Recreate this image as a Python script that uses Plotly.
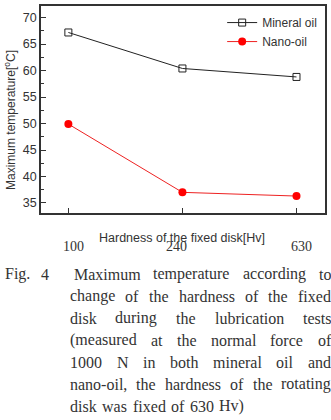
import plotly.graph_objects as go

hardness = ["100", "240", "630"]
mineral_oil = [67.2, 60.4, 58.8]
nano_oil = [49.9, 37.0, 36.3]

caption_label = "Fig. 4"
caption_lines = [
    "Maximum temperature according to",
    "change of the hardness of the fixed",
    "disk during the lubrication tests",
    "(measured at the normal force of",
    "1000 N in both mineral oil and",
    "nano-oil, the hardness of the rotating",
    "disk was fixed of 630 Hv)",
]

xpos = list(range(len(hardness)))

# Times/Liberation Serif advance widths (per 1000 em) used to justify the caption
TIMES = {c: 500 for c in "0123456789"}
TIMES.update({
    'a': 444, 'b': 500, 'c': 444, 'd': 500, 'e': 444, 'f': 333, 'g': 500, 'h': 500,
    'i': 278, 'j': 278, 'k': 500, 'l': 278, 'm': 778, 'n': 500, 'o': 500, 'p': 500,
    'q': 500, 'r': 333, 's': 389, 't': 278, 'u': 500, 'v': 500, 'w': 722, 'x': 500,
    'y': 500, 'z': 444, 'M': 889, 'N': 722, 'H': 722, 'F': 556, '(': 333, ')': 333,
    ',': 250, '-': 333, '.': 250, ' ': 250,
})


def text_w(s, size):
    return sum(TIMES.get(c, 500) for c in s) * size / 1000.0


fig = go.Figure()
fig.add_trace(go.Scatter(
    x=xpos, y=mineral_oil, name="Mineral oil", mode="lines+markers",
    line=dict(color="#222222", width=1),
    marker=dict(symbol="square-open", size=7, color="#222222", line=dict(width=1)),
))
fig.add_trace(go.Scatter(
    x=xpos, y=nano_oil, name="Nano-oil", mode="lines+markers",
    line=dict(color="#ee2222", width=1),
    marker=dict(symbol="circle", size=8, color="#ff0000"),
))

sans = "Liberation Sans, Arial, sans-serif"
serif = "Liberation Serif, Times New Roman, serif"
ink = "#333333"

L, R, T, B, W, H = 41, 5, 4, 207, 331, 420
PW, PH = W - L - R, H - T - B


def px_x(px):
    return (px - L) / PW


def px_y(py):
    return (H - B - py) / PH


fig.update_layout(
    width=W, height=H,
    margin=dict(l=L, r=R, t=T, b=B),
    paper_bgcolor="white", plot_bgcolor="white",
    font=dict(family=sans, size=12, color=ink),
    showlegend=True,
    legend=dict(x=0.99, y=0.99, xanchor="right", yanchor="top",
                bgcolor="rgba(0,0,0,0)", font=dict(size=12, family=sans, color=ink),
                itemwidth=30, tracegroupgap=0),
    xaxis=dict(range=[-0.24, 2.25], showgrid=False, zeroline=False,
               showline=True, linecolor=ink, linewidth=1.5, mirror=True,
               ticks="inside", ticklen=5, tickcolor=ink,
               tickvals=xpos, showticklabels=False),
    yaxis=dict(range=[33.1, 72.2], showgrid=False, zeroline=False,
               showline=True, linecolor=ink, linewidth=1.5, mirror=True,
               ticks="inside", ticklen=5, tickcolor=ink,
               dtick=5, tick0=35,
               minor=dict(ticks="inside", ticklen=3, dtick=2.5, tick0=35, tickcolor=ink),
               tickfont=dict(size=12.5, family=sans, color=ink)),
)

# y-axis title, placed as in the reference
fig.add_annotation(text="Maximum temperature[<sup>o</sup>C]", xref="paper", yref="paper",
                   x=px_x(10), y=px_y(119), textangle=-90, xanchor="center", yanchor="middle",
                   showarrow=False, font=dict(size=12, family=sans, color=ink))
# x-axis title placed as in the reference (above the tick labels)
fig.add_annotation(text="Hardness of the fixed disk[Hv]", xref="paper", yref="paper",
                   x=px_x(182), y=px_y(238), xanchor="center", yanchor="middle",
                   showarrow=False, font=dict(size=12.5, family=sans, color=ink))
# tick labels, placed below the axis title
label_shift = [5, -6, 5]
for xi, lab, sh in zip(xpos, hardness, label_shift):
    fig.add_annotation(text=lab, xref="x", yref="paper", x=xi, y=px_y(247),
                       xshift=sh, xanchor="center", yanchor="middle", showarrow=False,
                       font=dict(size=14, family=serif, color=ink))

# caption (justified, word by word)
CAP = 16
fig.add_annotation(text="Fig.", xref="paper", yref="paper",
                   x=px_x(3), y=px_y(275), xanchor="left", yanchor="middle",
                   showarrow=False, font=dict(size=CAP, family=serif, color=ink))
fig.add_annotation(text="4", xref="paper", yref="paper",
                   x=px_x(39), y=px_y(275), xanchor="left", yanchor="middle",
                   showarrow=False, font=dict(size=CAP, family=serif, color=ink))
starts = [72, 68, 68, 68, 68, 68, 68]
ends = [330, 330, 330, 330, 330, 330, 243]
for i, line in enumerate(caption_lines):
    ypix = 275 + i * 22.2
    words = line.split(" ")
    widths = [text_w(w, CAP) for w in words]
    gap = (ends[i] - starts[i] - sum(widths)) / (len(words) - 1)
    xcur = starts[i]
    for w, ww in zip(words, widths):
        fig.add_annotation(text=w, xref="paper", yref="paper",
                           x=px_x(xcur), y=px_y(ypix), xanchor="left", yanchor="middle",
                           showarrow=False, font=dict(size=CAP, family=serif, color=ink))
        xcur += ww + gap

fig.write_html("out.html")
